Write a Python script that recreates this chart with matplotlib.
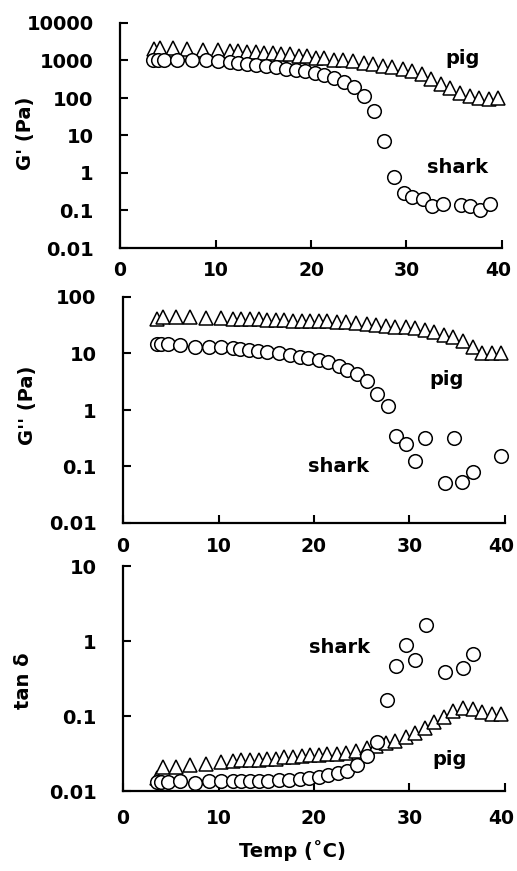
import matplotlib
matplotlib.use("Agg")
import matplotlib.pyplot as plt
from matplotlib.transforms import ScaledTranslation
import numpy as np

plt.rcParams['font.family'] = ['DejaVu Sans']
plt.rcParams['font.weight'] = 'bold'
plt.rcParams['font.size'] = 14

# pig gelatin: one temperature list for all three panels
pig_temp = [3.6, 4.2, 5.5, 7.0, 8.7, 10.3, 11.5, 12.4, 13.3, 14.2, 15.1, 16.0,
            16.9, 17.8, 18.7, 19.6, 20.5, 21.4, 22.4, 23.4, 24.4, 25.5, 26.5,
            27.5, 28.5, 29.6, 30.6, 31.6, 32.6, 33.6, 34.6, 35.6, 36.6, 37.6,
            38.6, 39.6]
pig_g1 = [2000, 2200, 2100, 2000, 1900, 1850, 1800, 1750, 1700, 1650, 1600, 1550,
          1500, 1450, 1350, 1300, 1200, 1150, 1050, 1000, 950, 880, 800,
          730, 680, 600, 530, 430, 320, 240, 185, 140, 115, 100,
          95, 100]
pig_g2 = [40, 45, 45, 44, 43, 42, 41.5, 41, 40.5, 40, 39.5, 39,
          38.5, 38, 38, 38, 37.5, 37, 36.5, 35.6, 34.5, 33, 32,
          31, 30, 29, 28, 26, 23.7, 21.5, 19.4, 16.9, 13.2, 10.1,
          10, 10]
pig_tan = [0.015, 0.021, 0.021, 0.022, 0.023, 0.024, 0.025, 0.026, 0.026, 0.026, 0.027, 0.027,
           0.028, 0.028, 0.029, 0.030, 0.030, 0.031, 0.031, 0.032, 0.034, 0.037, 0.040,
           0.043, 0.046, 0.052, 0.060, 0.070, 0.082, 0.098, 0.115, 0.128, 0.124, 0.113,
           0.106, 0.105]

# shark gelatin: each panel has its own points (some fall off the axis)
shark_temp_g1 = [3.5, 4.0, 4.6, 6.0, 7.5, 9.0, 10.3, 11.5, 12.4, 13.3, 14.2, 15.3,
                 16.3, 17.4, 18.4, 19.4, 20.4, 21.4, 22.4, 23.5, 24.5, 25.6, 26.6,
                 27.6, 28.7, 29.7, 30.6, 31.7, 32.7, 33.8, 35.7, 36.7, 37.7, 38.7]
shark_g1 = [1000, 1000, 1030, 1030, 1030, 1000, 950, 900, 860, 810, 760, 720,
            660, 610, 560, 510, 470, 410, 340, 260, 200, 113, 45,
            7.3, 0.8, 0.29, 0.23, 0.20, 0.13, 0.15, 0.14, 0.13, 0.10, 0.15]

shark_temp_g2 = [3.6, 4.0, 4.7, 6.0, 7.5, 9.0, 10.3, 11.5, 12.3, 13.2, 14.1, 15.1,
                 16.3, 17.5, 18.5, 19.4, 20.5, 21.5, 22.6, 23.5, 24.5, 25.6, 26.6,
                 27.7, 28.6, 29.6, 30.6, 31.6, 33.7, 34.7, 35.5, 36.6, 39.6]
shark_g2 = [14.7, 14.7, 14.7, 14, 13.2, 13.2, 12.9, 12.3, 11.9, 11.5, 11.1, 10.6,
            10, 9.4, 8.8, 8.2, 7.7, 7.2, 6.0, 5.1, 4.3, 3.2, 1.9,
            1.18, 0.35, 0.25, 0.125, 0.32, 0.052, 0.32, 0.053, 0.081, 0.155]

shark_temp_tan = [3.6, 4.0, 4.7, 6.0, 7.5, 9.0, 10.3, 11.5, 12.4, 13.3, 14.2, 15.2,
                  16.3, 17.4, 18.5, 19.5, 20.5, 21.5, 22.5, 23.5, 24.5, 25.6, 26.6,
                  27.6, 28.6, 29.6, 30.6, 31.7, 33.7, 35.6, 36.6]
shark_tan = [0.013, 0.013, 0.013, 0.0135, 0.0128, 0.0135, 0.0135, 0.0135, 0.0135, 0.0135, 0.0135, 0.0138,
             0.014, 0.0142, 0.0145, 0.0148, 0.0155, 0.0163, 0.0172, 0.0187, 0.0222, 0.029, 0.045,
             0.163, 0.46, 0.88, 0.56, 1.62, 0.39, 0.43, 0.67]

x_ticks = [0, 10, 20, 30, 40]

panels = [
    dict(rect=[120/517, 1 - 248/871, 382/517, 225/871], pig=pig_g1,
         st=shark_temp_g1, sv=shark_g1,
         yt=[0.01, 0.1, 1, 10, 100, 1000, 10000],
         ylab="G' (Pa)", ylc=(-0.222, 0.51), xpad=9,
         notes=[("pig", 35.9, 1100), ("shark", 35.3, 1.36)]),
    dict(rect=[123/517, 1 - 523/871, 382/517, 226/871], pig=pig_g2,
         st=shark_temp_g2, sv=shark_g2,
         yt=[0.01, 0.1, 1, 10, 100],
         ylab="G'' (Pa)", ylc=(-0.225, 0.52), xpad=10,
         notes=[("pig", 33.9, 3.5), ("shark", 22.6, 0.098)]),
    dict(rect=[123/517, 1 - 791/871, 382/517, 225/871], pig=pig_tan,
         st=shark_temp_tan, sv=shark_tan,
         yt=[0.01, 0.1, 1, 10],
         ylab="tan δ", ylc=(-0.235, 0.49), xpad=13,
         notes=[("shark", 22.7, 0.81), ("pig", 34.2, 0.0267)]),
]

fig = plt.figure(figsize=(5.17, 8.71), dpi=100)

for p in panels:
    ax = fig.add_axes(p['rect'])
    ax.set_yscale('log')
    ax.plot(pig_temp, p['pig'], linestyle='none', marker='^', ms=9.5,
            mfc='white', mec='black', mew=1.1, clip_on=False)
    ax.plot(p['st'], p['sv'], linestyle='none', marker='o', ms=9.8,
            mfc='white', mec='black', mew=1.1, clip_on=False)

    ax.set_xlim(0, 40)
    ax.set_ylim(p['yt'][0], p['yt'][-1])
    ax.set_xticks(x_ticks)
    ax.set_xticklabels([str(t) for t in x_ticks])
    ax.set_yticks(p['yt'])
    ax.set_yticklabels([('%g' % v) for v in p['yt']])
    ax.minorticks_off()

    for side in ['top', 'right']:
        ax.spines[side].set_visible(False)
    for side in ['left', 'bottom']:
        ax.spines[side].set_linewidth(1.6)
    ax.tick_params(axis='both', direction='in', length=6, width=1.5,
                   labelsize=14)
    ax.tick_params(axis='x', labelsize=13.5, pad=p['xpad'])
    ax.tick_params(axis='y', pad=19)

    # pull the "40" label a little left so it stays on the page
    last = ax.xaxis.get_major_ticks()[-1].label1
    last.set_transform(last.get_transform()
                       + ScaledTranslation(-3 / 72, 0, fig.dpi_scale_trans))

    ax.set_ylabel(p['ylab'], fontsize=14, fontweight='bold')
    ax.yaxis.set_label_coords(*p['ylc'])

    for txt, tx, ty in p['notes']:
        ax.text(tx, ty, txt, ha='center', va='center', fontsize=14,
                fontweight='bold')

ax.set_xlabel('Temp (˚C)', fontsize=14, fontweight='bold')
ax.xaxis.set_label_coords(0.444, -0.218)

fig.savefig('out.png', dpi=100)
